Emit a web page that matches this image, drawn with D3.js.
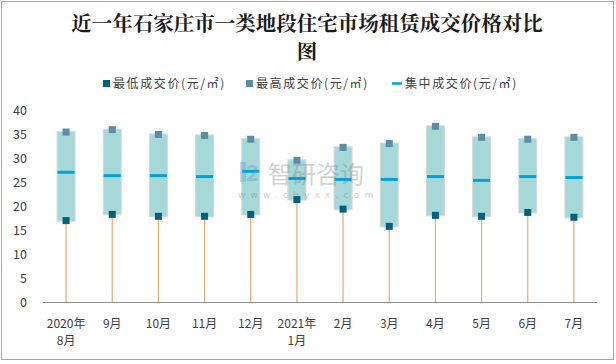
<!DOCTYPE html>
<html><head><meta charset="utf-8">
<script src="https://cdn.jsdelivr.net/npm/d3@7/dist/d3.min.js"></script>
<style>body{margin:0;background:#fff}svg{display:block}</style>
</head><body><div id="chart"></div>
<script>
const categories = ["2020年\n8月","9月","10月","11月","12月","2021年\n1月","2月","3月","4月","5月","6月","7月"];
const lowValues = [17.0,18.3,17.9,17.9,18.3,21.4,19.4,15.8,18.1,17.9,18.7,17.7];
const highValues = [35.5,36.0,35.0,34.8,34.0,29.6,32.3,33.1,36.7,34.4,34.0,34.4];
const midValues = [27.1,26.4,26.4,26.2,27.3,25.8,25.6,25.6,26.2,25.4,26.2,26.0];
const yTicks = [0,5,10,15,20,25,30,35,40];
const seriesNames = ["最低成交价(元/㎡)","最高成交价(元/㎡)","集中成交价(元/㎡)"];

const W = 616, H = 364;
const svg = d3.select("#chart").append("svg").attr("width", W).attr("height", H)
  .style("font-family", "'Noto Sans CJK SC','Noto Sans',sans-serif");

svg.append("rect").attr("x",1.5).attr("y",1.5).attr("width",W-4).attr("height",H-6)
  .attr("fill","#fff").attr("stroke","#a6a6a6").attr("stroke-width",1);

// title
const titleG = svg.append("g").attr("fill","#1a1a1a")
  .style("font-family","'Noto Serif CJK SC','Noto Sans CJK SC',serif");
titleG.append("text").attr("text-anchor","middle").attr("font-size",20.5).attr("font-weight","bold")
  .attr("x",307).attr("y",31).text("近一年石家庄市一类地段住宅市场租赁成交价格对比");
titleG.append("text").attr("text-anchor","middle").attr("font-size",20.5).attr("font-weight","bold")
  .attr("x",307).attr("y",59).text("图");

const x = d3.scaleBand().domain(categories).range([43,597]);
const y = d3.scaleLinear().domain([0,40]).range([302,110.5]);

// y tick labels
svg.append("g").selectAll("text").data(yTicks).join("text")
  .attr("x",27).attr("y",d=>y(d)+4.5).attr("text-anchor","end")
  .attr("font-size",12.5).attr("fill","#404040").text(d=>d);

// x labels
const xl = svg.append("g").selectAll("text").data(categories).join("text")
  .attr("text-anchor","middle").attr("font-size",12).attr("fill","#404040");
xl.each(function(d){
  const t = d3.select(this);
  d.split("\n").forEach((s,i)=>{
    t.append("tspan").attr("x",x(d)+x.bandwidth()/2).attr("y",328+i*17).text(s);
  });
});

const data = categories.map((c,i)=>({c, lo:lowValues[i], hi:highValues[i], mid:midValues[i]}));
const cx = d => x(d.c)+x.bandwidth()/2;
const bw = 18;

// drop lines
svg.append("g").selectAll("line").data(data).join("line")
  .attr("x1",cx).attr("x2",cx).attr("y1",y(0)).attr("y2",d=>y(d.lo))
  .attr("stroke","#EFA96E").attr("stroke-width",1.2);

// boxes
svg.append("g").selectAll("rect").data(data).join("rect")
  .attr("x",d=>cx(d)-bw/2).attr("width",bw)
  .attr("y",d=>y(d.hi)-0.5).attr("height",d=>y(d.lo)-y(d.hi)+1)
  .attr("fill","#A5D8D7").attr("stroke","#D9D9D9").attr("stroke-width",1);

// axis line
svg.append("line").attr("x1",43).attr("x2",597).attr("y1",y(0)+0.5).attr("y2",y(0)+0.5)
  .attr("stroke","#8c8c8c").attr("stroke-width",1);

// median line
svg.append("g").selectAll("line").data(data).join("line")
  .attr("x1",d=>cx(d)-8.5).attr("x2",d=>cx(d)+8.5).attr("y1",d=>y(d.mid)).attr("y2",d=>y(d.mid))
  .attr("stroke","#00A2DE").attr("stroke-width",3);

// markers
const ms = 7;
svg.append("g").selectAll("rect").data(data).join("rect")
  .attr("x",d=>cx(d)-ms/2).attr("y",d=>y(d.hi)-ms/2).attr("width",ms).attr("height",ms)
  .attr("fill","#5B8DA6");
svg.append("g").selectAll("rect").data(data).join("rect")
  .attr("x",d=>cx(d)-ms/2).attr("y",d=>y(d.lo)-ms/2).attr("width",ms).attr("height",ms)
  .attr("fill","#00607F");

// watermark
const wm = svg.append("g").attr("opacity",0.35);
wm.append("rect").attr("x",240).attr("y",162).attr("width",6).attr("height",20).attr("fill","#5b9bd5");
wm.append("text").attr("x",246).attr("y",181).attr("font-size",22).attr("fill","#5b9bd5").attr("font-weight","bold").text("2");
wm.append("text").attr("x",268).attr("y",183).attr("font-size",24).attr("fill","#7f7f7f").text("智研咨询");
wm.append("text").attr("x",238).attr("y",198).attr("font-size",9).attr("fill","#7f7f7f")
  .attr("letter-spacing",5.2).style("font-family","'DejaVu Sans',sans-serif").text("www.chyxx.com");

// legend
const leg = svg.append("g").attr("font-size",12).attr("fill","#404040");
const legItems = [
  {x:103, type:"sq", color:"#00607F", name:seriesNames[0]},
  {x:246, type:"sq", color:"#5B8DA6", name:seriesNames[1]},
  {x:392, type:"ln", color:"#00A2DE", name:seriesNames[2]}
];
legItems.forEach(it=>{
  if(it.type==="sq") leg.append("rect").attr("x",it.x).attr("y",80).attr("width",7).attr("height",7).attr("fill",it.color);
  else leg.append("line").attr("x1",it.x).attr("x2",it.x+10).attr("y1",83.5).attr("y2",83.5).attr("stroke",it.color).attr("stroke-width",2.5);
  leg.append("text").attr("x",it.x+(it.type==="sq"?10:13)).attr("y",88).attr("letter-spacing",1.6).text(it.name);
});
</script></body></html>
